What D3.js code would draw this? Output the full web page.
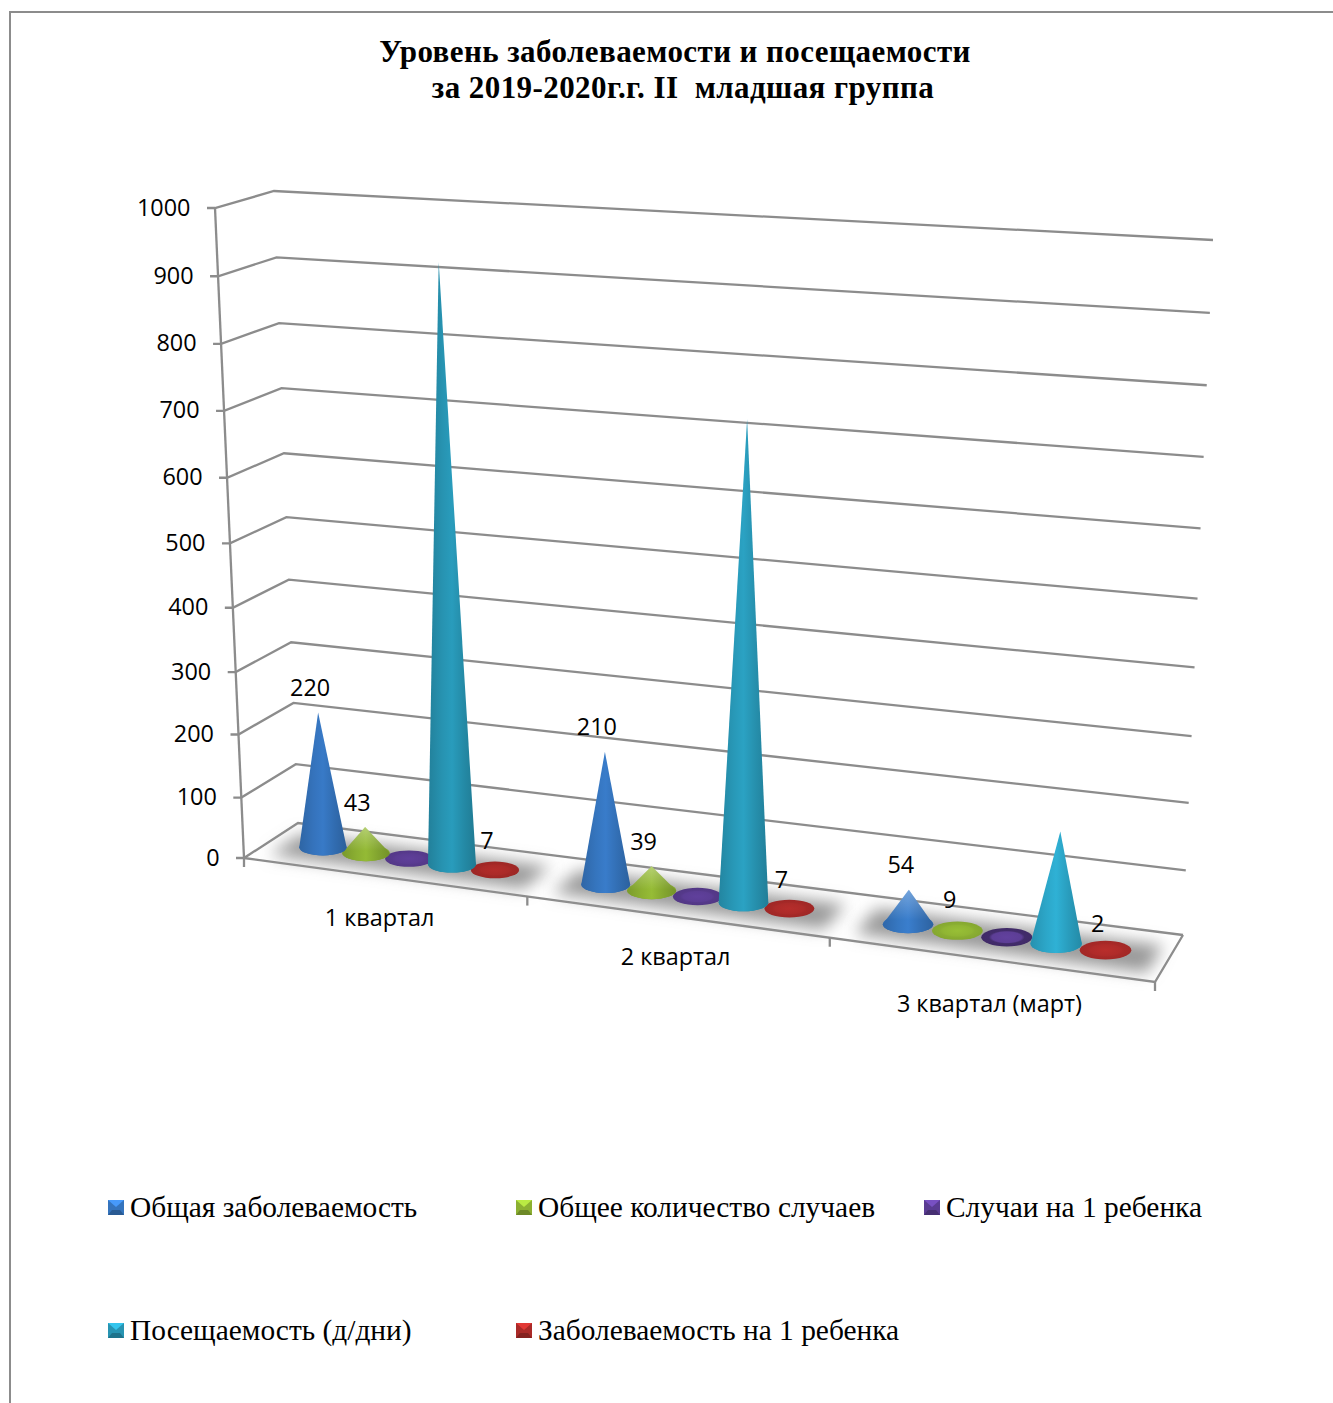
<!DOCTYPE html>
<html>
<head>
<meta charset="utf-8">
<script src="https://cdn.jsdelivr.net/npm/d3@7"></script>
<style>
  html, body { margin: 0; background: #fff; overflow: hidden; }
  svg { display: block; }
</style>
</head>
<body>
<div id="chart"></div>
<script>
// chart data
const categories = ['1 квартал', '2 квартал', '3 квартал (март)']
const seriesNames = ['Общая заболеваемость', 'Общее количество случаев', 'Случаи на 1 ребенка', 'Посещаемость (д/дни)', 'Заболеваемость на 1 ребенка']
const totalIllness = [220, 210, 54]
const totalCases = [43, 39, 9]
const casesPerChild = [2, 2, 1]
const attendance = [925, 728, 170]
const illnessPerChild = [7, 7, 2]
const yTicks = [0, 100, 200, 300, 400, 500, 600, 700, 800, 900, 1000]
const seriesColors = ['#3574bd', '#8cb032', '#5a3c92', '#2794b2', '#aa2a28']
const labelled = [true, true, false, false, true]

const seriesValues = [totalIllness, totalCases, casesPerChild, attendance, illnessPerChild]

const width = 1333
const height = 1403
const serif = '"Liberation Serif", serif'
const sans = '"Open Sans", sans-serif'
const sansSize = 23.4
const gridColor = '#8c8c8c'

const svg = d3.select('#chart').append('svg').attr('width', width).attr('height', height)
const defs = svg.append('defs')

svg.append('rect').attr('width', width).attr('height', height).attr('fill', '#fff')

// Outer frame, it runs off the right and bottom of the picture
svg
  .append('rect')
  .attr('x', 10)
  .attr('y', 12)
  .attr('width', width + 40)
  .attr('height', height + 40)
  .attr('fill', 'none')
  .attr('stroke', '#8c8c8c')
  .attr('stroke-width', 2)

// Title
const title = svg
  .append('text')
  .attr('font-family', serif)
  .attr('font-weight', 'bold')
  .attr('font-size', 31)
  .attr('letter-spacing', 0.42)
  .attr('text-anchor', 'middle')
  .attr('fill', '#000')
  .style('white-space', 'pre')
title.append('tspan').attr('x', 675).attr('y', 62).text('Уровень заболеваемости и посещаемости')
title.append('tspan').attr('x', 683).attr('y', 98).text('за 2019-2020г.г. II  младшая группа')

// Corners of the 3D box as they land on the page
const floorLF = [244, 858]
const floorRF = [1155, 982]
const floorLB = [298, 823]
const floorRB = [1183, 935]
const topLF = [215, 208]
const topRF = [1192, 267]
const topLB = [274, 191]
const topRB = [1213, 240]

const mix = (a, b, k) => [a[0] + (b[0] - a[0]) * k, a[1] + (b[1] - a[1]) * k]

// Height fraction of a value, the levels get a bit wider going up
const level = d3
  .scaleLinear()
  .domain(yTicks)
  .range([0, 0.093, 0.19, 0.286, 0.385, 0.484, 0.585, 0.688, 0.791, 0.895, 1])

// Where a category starts along the floor
const catPos = d3.scaleLinear().domain([0, 1, 2, 3]).range([0, 0.311, 0.643, 1])
// Where a series stands inside its category
const seriesPos = d3.scalePoint().domain(seriesNames).range([0.186, 0.802])

// u: along the floor, d: 0 front to 1 back, v: chart value
function project(u, d, v) {
  const bottom = mix(mix(floorLF, floorRF, u), mix(floorLB, floorRB, u), d)
  const top = mix(mix(topLF, topRF, u), mix(topLB, topRB, u), d)
  return mix(bottom, top, level(v))
}

const place = (cat, name) => catPos(cat) + (catPos(cat + 1) - catPos(cat)) * seriesPos(name)

// Walls and floor lines
const grid = svg.append('g').attr('fill', 'none').attr('stroke', gridColor).attr('stroke-width', 2.3)
const line = d3.line()

yTicks.forEach(v => {
  const front = project(0, 0, v)
  grid.append('path').attr('d', line([[front[0] - 8, front[1]], front, project(0, 1, v), project(1, 1, v)]))
})
grid.append('path').attr('d', line([project(0, 0, 1000), project(0, 0, 0)]))
grid.append('path').attr('d', line([project(0, 0, 0), project(1, 0, 0), project(1, 1, 0)]))
catPos.domain().forEach(c => {
  const p = project(catPos(c), 0, 0)
  grid.append('path').attr('d', line([p, [p[0], p[1] + 9]]))
})

// Y labels
svg
  .append('g')
  .selectAll('text')
  .data(yTicks)
  .join('text')
  .attr('x', d => project(0, 0, d)[0] - 24.5)
  .attr('y', d => project(0, 0, d)[1] + 7.5)
  .attr('text-anchor', 'end')
  .attr('font-family', sans)
  .attr('font-size', sansSize)
  .attr('fill', '#000')
  .text(d => d)

// Category labels, nudged by hand to sit where the original put them
const catLabelDx = [-6, -3, -3]
const catLabelDy = [49, 48, 52]
svg
  .append('g')
  .selectAll('text')
  .data(categories)
  .join('text')
  .attr('x', (d, i) => project((catPos(i) + catPos(i + 1)) / 2, 0, 0)[0] + catLabelDx[i])
  .attr('y', (d, i) => project((catPos(i) + catPos(i + 1)) / 2, 0, 0)[1] + catLabelDy[i])
  .attr('text-anchor', 'middle')
  .attr('font-family', sans)
  .attr('font-size', sansSize)
  .attr('fill', '#000')
  .text(d => d)

// Soft shadow under each group
const blur = defs.append('filter').attr('id', 'soft').attr('x', '-20%').attr('y', '-60%').attr('width', '140%').attr('height', '220%')
blur.append('feGaussianBlur').attr('stdDeviation', 8)

svg
  .append('g')
  .selectAll('path')
  .data(categories)
  .join('path')
  .attr('d', (d, i) => {
    const a = catPos(i) + (catPos(i + 1) - catPos(i)) * 0.06
    const b = catPos(i) + (catPos(i + 1) - catPos(i)) * 0.96
    return line([project(a, 0.74, 0), project(b, 0.74, 0), project(b, 0.16, 0), project(a, 0.16, 0)]) + 'Z'
  })
  .attr('fill', '#999')
  .attr('filter', 'url(#soft)')

// Gradients, one per series and category because the light changes across the floor
const catLight = [0, 0.04, 0.08]
const tealLight = [0, 0.1, 0.35]
seriesNames.forEach((name, s) => {
  categories.forEach((cat, c) => {
    const base = d3.color(seriesColors[s]).brighter(s === 3 ? tealLight[c] : catLight[c])
    const side = defs.append('linearGradient').attr('id', `side-${s}-${c}`)
    side
      .selectAll('stop')
      .data([
        [0, base.darker(0.4)],
        [0.3, base.darker(0.02)],
        [0.5, base.brighter(0.15)],
        [0.75, base.darker(0.2)],
        [1, base.darker(0.55)]
      ])
      .join('stop')
      .attr('offset', d => d[0])
      .attr('stop-color', d => d[1])

    // Flat discs: only the purple ones get a dark ring, and it grows as the value drops
    const disc = defs.append('radialGradient').attr('id', `disc-${s}-${c}`)
    const ringDark = s === 2 ? [0.1, 0.2, 0.95][c] : 0.12
    disc
      .selectAll('stop')
      .data([
        [0, base.brighter(0.15)],
        [0.58, base],
        [0.7, base.darker(ringDark)],
        [1, base.darker(ringDark + 0.1)]
      ])
      .join('stop')
      .attr('offset', d => d[0])
      .attr('stop-color', d => d[1])
  })
})

const tipGlow = defs.append('linearGradient').attr('id', 'tip-glow').attr('x1', 0).attr('y1', 0).attr('x2', 0).attr('y2', 1)
tipGlow.append('stop').attr('offset', 0).attr('stop-color', '#fff').attr('stop-opacity', 0.3)
tipGlow.append('stop').attr('offset', 0.7).attr('stop-color', '#fff').attr('stop-opacity', 0)

// Flatten to one record per mark, small ones go first so tall cones sit over them
const marks = []
categories.forEach((cat, c) => {
  seriesNames.forEach((name, s) => {
    marks.push({ c, s, value: seriesValues[s][c], u: place(c, name) })
  })
})
marks.sort((a, b) => a.value - b.value)

const conePath = m => {
  const base = project(m.u, 0.5, 0)
  const tip = project(m.u, 0.5, m.value)
  const rx = 23.5 + 2.5 * m.u
  const ry = 8 + 1.5 * m.u
  return { base, tip, rx, ry, d: `M${base[0] - rx},${base[1]}A${rx},${ry} 0 0 0 ${base[0] + rx},${base[1]}L${tip[0]},${tip[1]}Z` }
}

const cones = svg.append('g')
marks.forEach(m => {
  const k = conePath(m)
  const tall = k.base[1] - k.tip[1]
  cones
    .append('ellipse')
    .attr('cx', k.base[0])
    .attr('cy', k.base[1])
    .attr('rx', k.rx)
    .attr('ry', k.ry)
    .attr('fill', `url(#disc-${m.s}-${m.c})`)
  if (tall > k.ry * 1.2) {
    cones.append('path').attr('d', k.d).attr('fill', `url(#side-${m.s}-${m.c})`)
    if (tall < 60) cones.append('path').attr('d', k.d).attr('fill', 'url(#tip-glow)')
  }
})

// Value labels
const labelData = marks.filter(m => labelled[m.s])
svg
  .append('g')
  .selectAll('text')
  .data(labelData)
  .join('text')
  .attr('x', m => conePath(m).tip[0] - 8)
  .attr('y', m => conePath(m).tip[1] - 16.5)
  .attr('text-anchor', 'middle')
  .attr('font-family', sans)
  .attr('font-size', sansSize)
  .attr('fill', '#000')
  .text(m => m.value)

// Legend
const legendX = d3.scalePoint().domain([0, 1, 2]).range([108, 924])
const legendY = d3.scalePoint().domain([0, 1]).range([1200, 1323])
const legend = svg
  .append('g')
  .selectAll('g')
  .data(seriesNames)
  .join('g')
  .attr('transform', (d, i) => `translate(${legendX(i % 3)},${legendY(Math.floor(i / 3))})`)

legend
  .append('rect')
  .attr('width', 16)
  .attr('height', 15)
  .attr('fill', (d, i) => d3.color(seriesColors[i]))
legend
  .append('path')
  .attr('d', 'M0,15L4,10H12L16,15Z')
  .attr('fill', (d, i) => d3.color(seriesColors[i]).darker(0.7))
legend
  .append('path')
  .attr('d', 'M0,0H16L8,7Z')
  .attr('fill', (d, i) => d3.color(seriesColors[i]).brighter(0.8))
legend
  .append('text')
  .attr('x', 22)
  .attr('y', 17)
  .attr('font-family', serif)
  .attr('font-size', 29.4)
  .attr('fill', '#000')
  .text(d => d)
</script>
</body>
</html>
